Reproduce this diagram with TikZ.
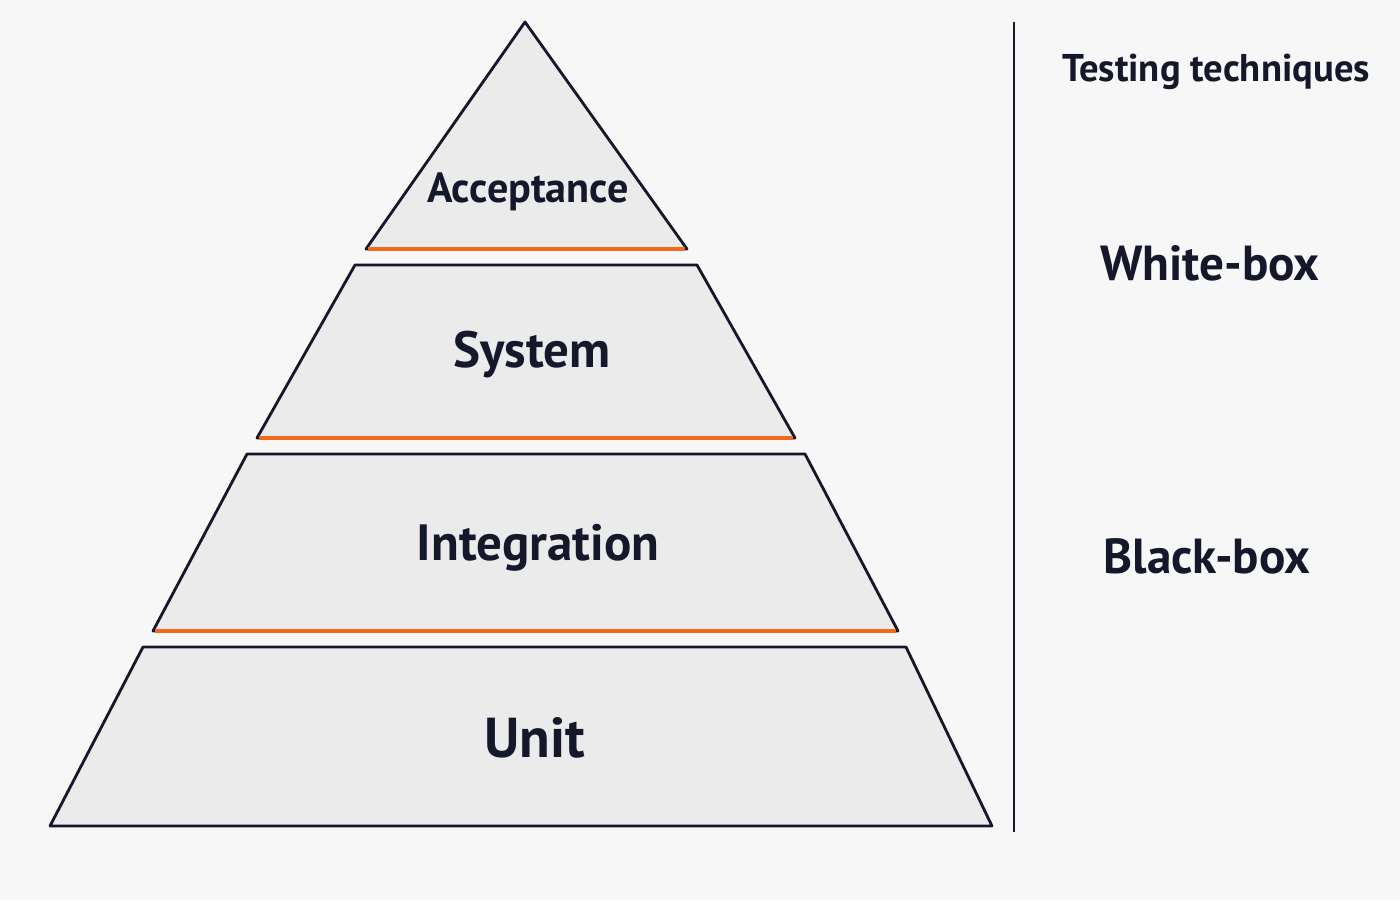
\documentclass[tikz,border=0pt]{standalone}
\usepackage{fontspec}
\setmainfont{PT Sans}
\definecolor{tierfill}{HTML}{EBEBEC}
\definecolor{edgeline}{HTML}{15182A}
\definecolor{accent}{HTML}{F26B1D}
\tikzset{
  tier/.style={fill=tierfill, draw=edgeline, line width=1.6pt, line join=round},
  sep/.style={draw=accent, line width=1.8pt},
  lbl/.style={text=edgeline, font=\bfseries}
}
\begin{document}
\begin{tikzpicture}[x=0.02cm, y=-0.02cm]
  \useasboundingbox[fill=white!97!black] (0,0) rectangle (1400,900);
  % tiers
  \draw[tier] (525,22) -- (687,249) -- (366,249) -- cycle;
  \draw[tier] (355,265) -- (697,265) -- (795,438) -- (257,438) -- cycle;
  \draw[tier] (247,454) -- (805,454) -- (898,631) -- (153,631) -- cycle;
  \draw[tier] (143,647) -- (906,647) -- (992,826) -- (50,826) -- cycle;
  \draw[sep] (368,249) -- (685,249);
  \draw[sep] (259,438) -- (793,438);
  \draw[sep] (155,631) -- (896,631);
  % labels
  \node[lbl, font=\bfseries\fontsize{24}{28}\selectfont] (acc) at (528,192) {Acceptance};
  \node[lbl, font=\bfseries\fontsize{29}{34}\selectfont] (sys) at (532,355) {System};
  \node[lbl, font=\bfseries\fontsize{29}{34}\selectfont] (int) at (538,548) {Integration};
  \node[lbl, font=\bfseries\fontsize{32}{38}\selectfont] (unit) at (535,738) {Unit};
  % techniques
  \draw[edgeline, line width=1.4pt] (1014,22) -- (1014,832);
  \node[lbl, font=\bfseries\fontsize{22}{26}\selectfont] (tech) at (1216,72) {Testing techniques};
  \node[lbl, font=\bfseries\fontsize{28}{32}\selectfont] (white) at (1210,263) {White-box};
  \node[lbl, font=\bfseries\fontsize{28}{32}\selectfont] (black) at (1207,556) {Black-box};
\end{tikzpicture}
\end{document}
